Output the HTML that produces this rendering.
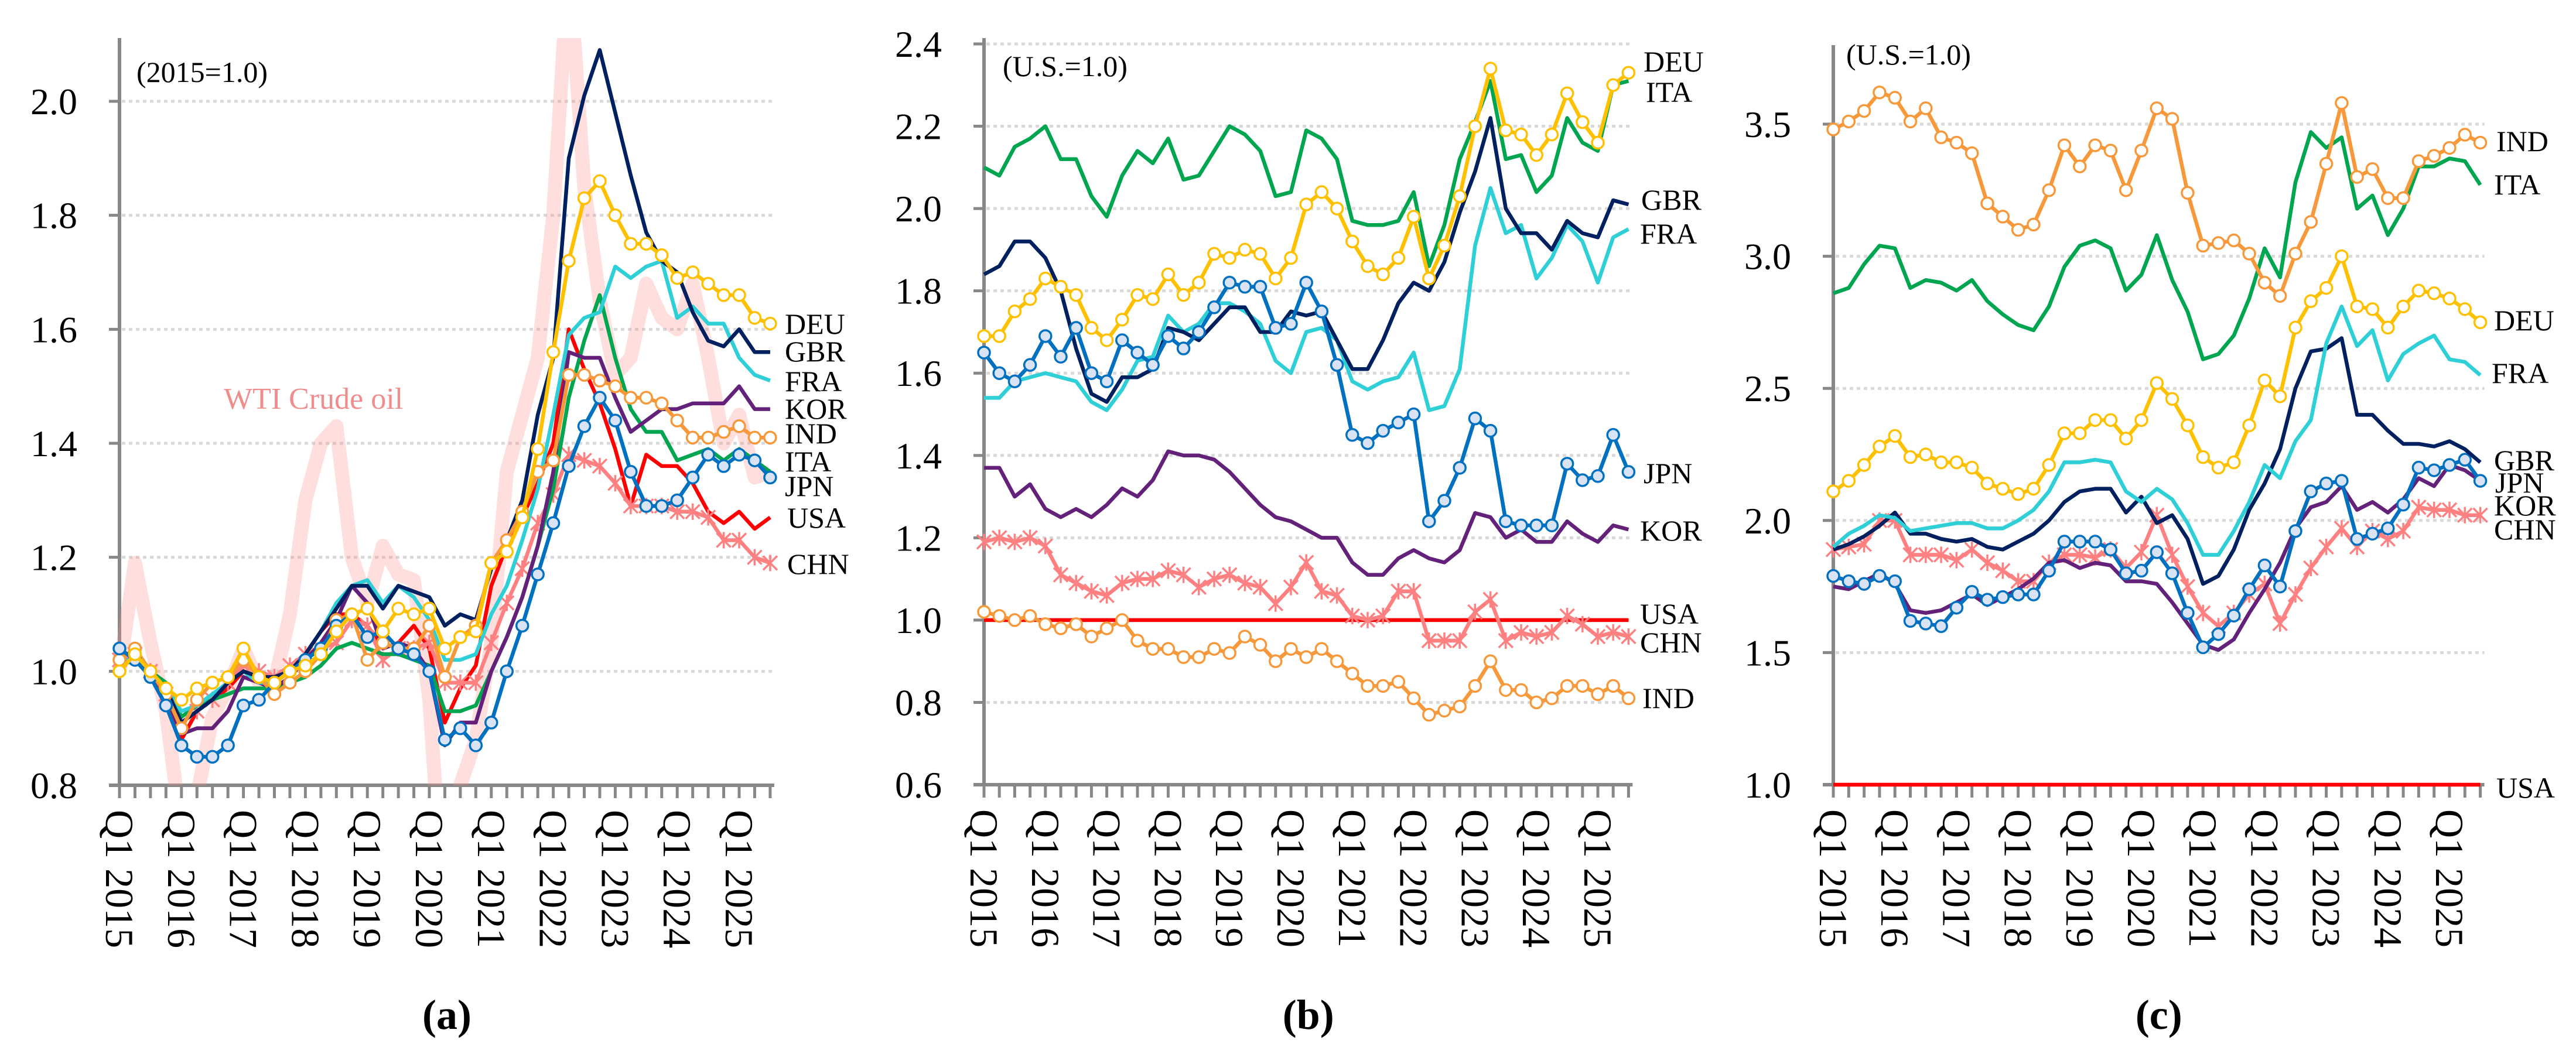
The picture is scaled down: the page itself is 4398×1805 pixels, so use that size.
<!DOCTYPE html>
<html><head><meta charset="utf-8"><style>
html,body{margin:0;padding:0;background:#fff;}
svg, svg text{font-family:"Liberation Serif","Times New Roman",serif;}
svg{display:block;}
</style></head><body>
<svg id="chart" width="4398" height="1805" viewBox="0 0 4398 1805" xmlns="http://www.w3.org/2000/svg" font-family="Liberation Serif, serif"></svg>
<script>
const quarters = ["Q1 2015","Q1 2016","Q1 2017","Q1 2018","Q1 2019","Q1 2020","Q1 2021","Q1 2022","Q1 2023","Q1 2024","Q1 2025"];
const aTicks = [0.8,1.0,1.2,1.4,1.6,1.8,2.0];
const bTicks = [0.6,0.8,1.0,1.2,1.4,1.6,1.8,2.0,2.2,2.4];
const cTicks = [1.0,1.5,2.0,2.5,3.0,3.5];

const aWTI = [1.0,1.19,1.05,0.93,0.72,0.78,0.92,0.97,1.04,0.98,0.98,1.10,1.30,1.40,1.43,1.20,1.12,1.22,1.17,1.16,0.95,0.55,0.80,0.88,1.05,1.35,1.45,1.55,1.80,2.25,1.85,1.65,1.52,1.55,1.68,1.62,1.60,1.68,1.55,1.40,1.45,1.34,1.35];
const aDEU = [1.00,1.03,1.00,0.97,0.95,0.97,0.98,0.99,1.04,0.99,0.98,1.00,1.01,1.03,1.07,1.10,1.11,1.07,1.11,1.10,1.11,1.04,1.06,1.07,1.19,1.21,1.27,1.39,1.56,1.72,1.83,1.86,1.80,1.75,1.75,1.73,1.69,1.70,1.68,1.66,1.66,1.62,1.61];
const aGBR = [1.03,1.03,1.00,0.97,0.91,0.93,0.95,0.98,1.00,0.99,0.99,1.00,1.03,1.07,1.11,1.15,1.15,1.11,1.15,1.14,1.13,1.08,1.10,1.09,1.18,1.23,1.30,1.45,1.55,1.90,2.01,2.09,1.98,1.87,1.77,1.72,1.70,1.63,1.58,1.57,1.60,1.56,1.56];
const aFRA = [1.02,1.02,1.00,0.97,0.93,0.94,0.96,0.98,1.00,0.98,0.98,1.00,1.03,1.07,1.12,1.15,1.16,1.12,1.15,1.13,1.09,1.02,1.02,1.03,1.10,1.15,1.23,1.32,1.45,1.59,1.62,1.63,1.71,1.69,1.71,1.72,1.62,1.64,1.61,1.61,1.55,1.52,1.51];
const aKOR = [1.03,1.03,1.00,0.96,0.89,0.90,0.90,0.93,0.99,0.98,0.97,0.99,1.02,1.05,1.09,1.15,1.12,1.04,1.05,1.04,1.00,0.87,0.91,0.91,1.00,1.06,1.13,1.22,1.35,1.56,1.55,1.55,1.48,1.42,1.44,1.46,1.46,1.47,1.47,1.47,1.50,1.46,1.46];
const aIND = [1.02,1.04,1.00,0.96,0.90,0.95,0.98,0.99,1.02,0.99,0.96,0.98,1.00,1.03,1.09,1.10,1.02,1.05,1.04,1.04,1.08,0.99,1.06,1.08,1.19,1.23,1.28,1.35,1.37,1.52,1.52,1.51,1.50,1.48,1.48,1.47,1.44,1.41,1.41,1.42,1.43,1.41,1.41];
const aITA = [1.01,1.02,1.00,0.98,0.92,0.94,0.95,0.96,0.97,0.97,0.97,0.98,0.99,1.01,1.04,1.05,1.04,1.03,1.03,1.02,1.01,0.93,0.93,0.94,1.00,1.06,1.13,1.22,1.32,1.48,1.58,1.66,1.55,1.46,1.42,1.42,1.37,1.38,1.39,1.37,1.39,1.37,1.35];
const aJPN = [1.04,1.02,0.99,0.94,0.87,0.85,0.85,0.87,0.94,0.95,0.98,1.00,1.02,1.04,1.08,1.10,1.06,1.07,1.04,1.03,1.00,0.88,0.90,0.87,0.91,1.00,1.08,1.17,1.26,1.36,1.43,1.48,1.44,1.35,1.29,1.29,1.30,1.34,1.38,1.36,1.38,1.37,1.34];
const aUSA = [1.03,1.03,1.00,0.95,0.88,0.93,0.95,0.97,1.00,0.99,0.98,1.00,1.03,1.07,1.10,1.10,1.08,1.04,1.05,1.08,1.04,0.91,0.97,1.01,1.15,1.22,1.27,1.33,1.40,1.60,1.53,1.47,1.39,1.29,1.38,1.36,1.36,1.33,1.28,1.26,1.28,1.25,1.27];
const aCHN = [1.02,1.03,1.00,0.96,0.91,0.93,0.95,0.98,1.01,1.00,0.99,1.01,1.03,1.04,1.05,1.09,1.08,1.02,1.04,1.04,1.05,0.98,0.98,0.98,1.05,1.12,1.18,1.26,1.31,1.38,1.37,1.36,1.33,1.29,1.29,1.29,1.28,1.28,1.27,1.23,1.23,1.20,1.19];

const bITA = [2.10,2.08,2.15,2.17,2.20,2.12,2.12,2.03,1.98,2.08,2.14,2.11,2.17,2.07,2.08,2.14,2.20,2.18,2.14,2.03,2.04,2.19,2.17,2.12,1.97,1.96,1.96,1.97,2.04,1.86,1.96,2.12,2.21,2.31,2.12,2.13,2.04,2.08,2.22,2.16,2.14,2.30,2.31];
const bDEU = [1.69,1.69,1.75,1.78,1.83,1.81,1.79,1.71,1.68,1.73,1.79,1.78,1.84,1.79,1.82,1.89,1.88,1.90,1.89,1.83,1.88,2.01,2.04,2.00,1.92,1.86,1.84,1.88,1.98,1.83,1.91,2.03,2.20,2.34,2.19,2.18,2.13,2.18,2.28,2.21,2.16,2.30,2.33];
const bGBR = [1.84,1.86,1.92,1.92,1.88,1.80,1.66,1.55,1.53,1.59,1.59,1.61,1.71,1.70,1.68,1.72,1.76,1.76,1.70,1.70,1.75,1.74,1.75,1.68,1.61,1.61,1.68,1.77,1.82,1.80,1.87,1.99,2.09,2.22,2.00,1.94,1.94,1.90,1.97,1.94,1.93,2.02,2.01];
const bFRA = [1.54,1.54,1.58,1.59,1.60,1.59,1.58,1.53,1.51,1.56,1.63,1.64,1.74,1.70,1.72,1.77,1.77,1.75,1.72,1.63,1.60,1.70,1.71,1.68,1.58,1.56,1.58,1.59,1.65,1.51,1.52,1.61,1.91,2.05,1.94,1.96,1.83,1.88,1.96,1.92,1.82,1.93,1.95];
const bJPN = [1.65,1.60,1.58,1.62,1.69,1.64,1.71,1.60,1.58,1.68,1.65,1.62,1.69,1.66,1.70,1.76,1.82,1.81,1.81,1.71,1.72,1.82,1.75,1.62,1.45,1.43,1.46,1.48,1.50,1.24,1.29,1.37,1.49,1.46,1.24,1.23,1.23,1.23,1.38,1.34,1.35,1.45,1.36];
const bKOR = [1.37,1.37,1.30,1.33,1.27,1.25,1.27,1.25,1.28,1.32,1.30,1.34,1.41,1.40,1.40,1.39,1.36,1.32,1.28,1.25,1.24,1.22,1.20,1.20,1.14,1.11,1.11,1.15,1.17,1.15,1.14,1.17,1.26,1.25,1.20,1.22,1.19,1.19,1.24,1.21,1.19,1.23,1.22];
const bUSA = [1,1,1,1,1,1,1,1,1,1,1,1,1,1,1,1,1,1,1,1,1,1,1,1,1,1,1,1,1,1,1,1,1,1,1,1,1,1,1,1,1,1,1];
const bCHN = [1.19,1.20,1.19,1.20,1.18,1.11,1.09,1.07,1.06,1.09,1.10,1.10,1.12,1.11,1.08,1.10,1.11,1.09,1.08,1.04,1.08,1.14,1.07,1.06,1.01,1.00,1.01,1.07,1.07,0.95,0.95,0.95,1.02,1.05,0.95,0.97,0.96,0.97,1.01,0.99,0.96,0.97,0.96];
const bIND = [1.02,1.01,1.00,1.01,0.99,0.98,0.99,0.96,0.98,1.00,0.95,0.93,0.93,0.91,0.91,0.93,0.92,0.96,0.94,0.90,0.93,0.91,0.93,0.90,0.87,0.84,0.84,0.85,0.81,0.77,0.78,0.79,0.84,0.90,0.83,0.83,0.80,0.81,0.84,0.84,0.82,0.84,0.81];

const cIND = [3.48,3.51,3.55,3.62,3.60,3.51,3.56,3.45,3.43,3.39,3.20,3.15,3.10,3.12,3.25,3.42,3.34,3.42,3.40,3.25,3.40,3.56,3.52,3.24,3.04,3.05,3.06,3.01,2.90,2.85,3.01,3.13,3.35,3.58,3.30,3.33,3.22,3.22,3.36,3.38,3.41,3.46,3.43];
const cITA = [2.86,2.88,2.97,3.04,3.03,2.88,2.91,2.90,2.87,2.91,2.83,2.78,2.74,2.72,2.81,2.96,3.04,3.06,3.03,2.87,2.93,3.08,2.91,2.79,2.61,2.63,2.70,2.84,3.03,2.92,3.28,3.47,3.41,3.45,3.18,3.23,3.08,3.18,3.34,3.34,3.37,3.36,3.27];
const cDEU = [2.11,2.15,2.21,2.28,2.32,2.24,2.25,2.22,2.22,2.20,2.14,2.12,2.10,2.12,2.21,2.33,2.33,2.38,2.38,2.31,2.38,2.52,2.46,2.36,2.24,2.20,2.22,2.36,2.53,2.47,2.73,2.83,2.88,3.00,2.81,2.80,2.73,2.81,2.87,2.86,2.84,2.80,2.75];
const cFRA = [1.90,1.95,1.98,2.02,2.01,1.96,1.97,1.98,1.99,1.99,1.97,1.97,2.00,2.04,2.11,2.22,2.22,2.23,2.22,2.11,2.07,2.12,2.08,1.99,1.87,1.87,1.96,2.07,2.21,2.16,2.30,2.38,2.67,2.81,2.66,2.72,2.53,2.63,2.67,2.70,2.61,2.60,2.55];
const cGBR = [1.89,1.91,1.94,1.98,2.03,1.95,1.95,1.93,1.92,1.93,1.90,1.89,1.92,1.95,2.00,2.07,2.11,2.12,2.12,2.03,2.09,1.99,2.02,1.93,1.76,1.79,1.89,2.04,2.14,2.27,2.50,2.64,2.65,2.69,2.40,2.40,2.34,2.29,2.29,2.28,2.30,2.27,2.22];
const cJPN = [1.79,1.77,1.76,1.79,1.77,1.62,1.61,1.60,1.67,1.73,1.70,1.71,1.72,1.72,1.81,1.92,1.92,1.92,1.89,1.80,1.81,1.88,1.80,1.65,1.52,1.57,1.64,1.74,1.83,1.75,1.96,2.11,2.14,2.15,1.93,1.95,1.97,2.06,2.20,2.19,2.21,2.23,2.15];
const cKOR = [1.75,1.74,1.77,1.80,1.76,1.66,1.65,1.66,1.69,1.72,1.68,1.71,1.74,1.78,1.84,1.85,1.82,1.84,1.83,1.77,1.77,1.76,1.69,1.61,1.53,1.51,1.55,1.65,1.74,1.84,1.97,2.05,2.07,2.13,2.04,2.07,2.03,2.08,2.16,2.13,2.21,2.19,2.15];
const cCHN = [1.89,1.90,1.91,2.00,2.00,1.87,1.87,1.87,1.85,1.89,1.84,1.81,1.77,1.77,1.84,1.87,1.87,1.86,1.89,1.82,1.88,2.02,1.87,1.75,1.65,1.60,1.65,1.72,1.76,1.61,1.72,1.82,1.90,1.97,1.90,1.96,1.93,1.96,2.05,2.04,2.04,2.02,2.02];
const cUSA = [1,1,1,1,1,1,1,1,1,1,1,1,1,1,1,1,1,1,1,1,1,1,1,1,1,1,1,1,1,1,1,1,1,1,1,1,1,1,1,1,1,1,1];

const NS = "http://www.w3.org/2000/svg";
const FF = "Liberation Serif, Times New Roman, serif";
const svg = document.getElementById("chart");
function mk(tag, attrs, parent){
  const e = document.createElementNS(NS, tag);
  for (const k in attrs) e.setAttribute(k, attrs[k]);
  if (tag === "text") e.setAttribute("font-family", FF);
  (parent || svg).appendChild(e);
  return e;
}
const STY = {
  DEU:{c:"#ffc000", m:"circle", fill:"#fff"},
  GBR:{c:"#002060", m:null},
  FRA:{c:"#2ecfd6", m:null},
  KOR:{c:"#63217a", m:null},
  IND:{c:"#f7993a", m:"circle", fill:"#fff"},
  ITA:{c:"#00a550", m:null},
  JPN:{c:"#0070c0", m:"circle", fill:"#dae3f3"},
  USA:{c:"#ff0000", m:null},
  CHN:{c:"#ff8080", m:"star"}
};

function panel(cfg){
  const g = mk("g", {});
  
  
  const x = i => cfg.x0 + i * cfg.dx;
  const y = v => cfg.yBottom - (v - cfg.vmin) / (cfg.vmax - cfg.vmin) * (cfg.yBottom - cfg.yTopVal);
  const xEnd = x(42) + 7;
  cfg.ticks.forEach(t => {
    const yy = y(t);
    if (t !== cfg.vmin) {
      const gl = mk("line", {x1:cfg.x0+4, x2:xEnd, y1:yy, y2:yy, stroke:"#d9d9d9", "stroke-width":5, "stroke-dasharray":"6 6"}, g);
      
      
    }
    const tk = mk("line", {x1:cfg.x0-18, x2:cfg.x0, y1:yy, y2:yy, stroke:"#888", "stroke-width":5}, g);
    
    
    const tl = mk("text", {x:cfg.x0-72, y:yy+22, "font-size":64, "text-anchor":"end", fill:"#000"}, g);
    tl.textContent = t.toFixed(1);
    
    
  });
  // axes (drawn under series)
  const ya = mk("line", {x1:cfg.x0, x2:cfg.x0, y1:cfg.axisTop, y2:cfg.yBottom+2, stroke:"#888", "stroke-width":6}, g);
  
  
  const xa = mk("line", {x1:cfg.x0-18, x2:xEnd, y1:cfg.yBottom, y2:cfg.yBottom, stroke:"#888", "stroke-width":6}, g);
  
  
  for (let i = 0; i <= 42; i++) {
    const xx = x(i);
    const t = mk("line", {x1:xx, x2:xx, y1:cfg.yBottom, y2:cfg.yBottom+22, stroke:"#888", "stroke-width":5}, g);
    
    
  }
  const cid = cfg.name + "-clip";
  const cp = mk("clipPath", {id:cid}, g);
  mk("rect", {x:cfg.x0-15, y:cfg.axisTop, width:xEnd-cfg.x0+60, height:cfg.yBottom-cfg.axisTop+cfg.clipExtra}, cp);
  const plot = mk("g", {"clip-path":"url(#"+cid+")"}, g);
  
  
  if (cfg.wti) {
    const p = mk("polyline", {points: cfg.wti.map((v,i)=>x(i)+","+y(v)).join(" "), fill:"none", stroke:"#ff8a8a", "stroke-opacity":0.28, "stroke-width":24, "stroke-linejoin":"round"}, plot);
    
    
  }
  cfg.series.forEach(s => {
    const st = STY[s.k];
    const sg = mk("g", {}, plot);
    
    
    const pl = mk("polyline", {points: s.d.map((v,i)=>x(i)+","+y(v)).join(" "), fill:"none", stroke:st.c, "stroke-width":6.5, "stroke-linejoin":"round"}, sg);
    
    
    if (st.m === "circle") {
      s.d.forEach((v,i) => {
        const c = mk("circle", {cx:x(i), cy:y(v), r:10, fill:st.fill, stroke:st.c, "stroke-width":3.5}, sg);
        
        
      });
    } else if (st.m === "star") {
      s.d.forEach((v,i) => {
        const cx = x(i), cy = y(v), r = 12;
        const p = mk("path", {d:`M${cx-r},${cy-r}L${cx+r},${cy+r}M${cx-r},${cy+r}L${cx+r},${cy-r}M${cx},${cy-r-2}L${cx},${cy+r+2}`, stroke:st.c, "stroke-width":3.5, fill:"none"}, sg);
        
        
      });
    }
  });
  quarters.forEach((q, k) => {
    const xx = x(k*4);
    const t = mk("text", {x:0, y:0, "font-size":68, fill:"#000", "dominant-baseline":"central", transform:`translate(${xx},${cfg.yBottom+42}) rotate(90)`}, g);
    t.textContent = q;
    
    
  });
  cfg.labels.forEach(l => {
    const t = mk("text", {x:l[1], y:l[2]+17, "font-size":50, fill:"#000"}, g);
    t.textContent = l[0];
    
    
  });
  const ti = mk("text", {x:cfg.titleX, y:cfg.titleY, "font-size":50, fill:"#000"}, g);
  ti.textContent = cfg.title;
  
  
  const cap = mk("text", {x:(cfg.x0+xEnd)/2, y:1757, "font-size":72, "font-weight":"bold", "text-anchor":"middle", fill:"#000"}, g);
  cap.textContent = cfg.cap;
  
  
}

panel({name:"panel-a", x0:204, dx:26.45, yBottom:1341, yTopVal:173, vmin:0.8, vmax:2.0, axisTop:65, clipExtra:0, ticks:aTicks, wti:aWTI,
  title:"(2015=1.0)", titleX:233, titleY:140, cap:"(a)",
  series:[{k:"USA",d:aUSA},{k:"CHN",d:aCHN},{k:"ITA",d:aITA},{k:"KOR",d:aKOR},{k:"FRA",d:aFRA},{k:"GBR",d:aGBR},{k:"IND",d:aIND},{k:"JPN",d:aJPN},{k:"DEU",d:aDEU}],
  labels:[["DEU",1340,553],["GBR",1340,600],["FRA",1340,651],["KOR",1340,698],["IND",1340,740],["ITA",1340,788],["JPN",1340,830],["USA",1344,884],["CHN",1344,963]]});
panel({name:"panel-b", x0:1680, dx:26.2, yBottom:1340, yTopVal:75, vmin:0.6, vmax:2.4, axisTop:65, clipExtra:10, ticks:bTicks,
  title:"(U.S.=1.0)", titleX:1712, titleY:130, cap:"(b)",
  series:[{k:"USA",d:bUSA},{k:"CHN",d:bCHN},{k:"IND",d:bIND},{k:"KOR",d:bKOR},{k:"FRA",d:bFRA},{k:"GBR",d:bGBR},{k:"JPN",d:bJPN},{k:"ITA",d:bITA},{k:"DEU",d:bDEU}],
  labels:[["DEU",2806,105],["ITA",2810,157],["GBR",2802,341],["FRA",2800,399],["JPN",2806,808],["KOR",2800,906],["USA",2800,1048],["CHN",2800,1097],["IND",2804,1192]]});
panel({name:"panel-c", x0:3130, dx:26.3, yBottom:1340, yTopVal:212, vmin:1.0, vmax:3.5, axisTop:77, clipExtra:10, ticks:cTicks,
  title:"(U.S.=1.0)", titleX:3152, titleY:110, cap:"(c)",
  series:[{k:"USA",d:cUSA},{k:"CHN",d:cCHN},{k:"KOR",d:cKOR},{k:"JPN",d:cJPN},{k:"GBR",d:cGBR},{k:"FRA",d:cFRA},{k:"DEU",d:cDEU},{k:"ITA",d:cITA},{k:"IND",d:cIND}],
  labels:[["IND",4262,241],["ITA",4258,315],["DEU",4258,547],["FRA",4254,637],["GBR",4258,786],["JPN",4260,824],["KOR",4258,863],["CHN",4258,904],["USA",4262,1345]]});

const w = mk("text", {x:382, y:698, "font-size":52, fill:"#f08c8c"});
w.textContent = "WTI Crude oil";


</script>
</body></html>
